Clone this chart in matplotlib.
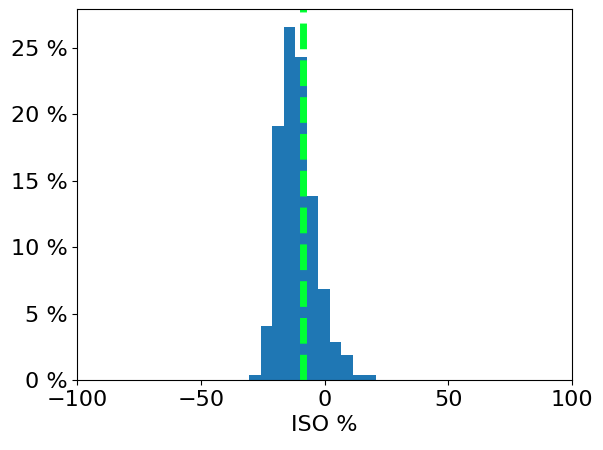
import matplotlib
matplotlib.use("Agg")
import matplotlib.pyplot as plt
from matplotlib.ticker import FuncFormatter
import numpy as np

# histogram bins (ISO %) and share of values per bin (%)
bin_edges = [-30.5, -25.83, -21.16, -16.49, -11.82, -7.15, -2.48, 2.19, 6.86, 11.53, 16.2, 20.87]
bin_pct = [0.38, 4.07, 19.1, 26.6, 24.3, 13.85, 6.85, 2.86, 1.88, 0.38, 0.38]
mean_iso = -8.5

centers = [(bin_edges[i] + bin_edges[i + 1]) / 2 for i in range(len(bin_pct))]

fig = plt.figure(figsize=(6.03, 4.5), dpi=100)
ax = fig.add_axes([0.1277, 0.1556, 0.8209, 0.8244])

ax.hist(centers, bins=bin_edges, weights=bin_pct, color="#1f77b4")
ax.axvline(mean_iso, color="#00ff33", linestyle="--", linewidth=5)

ax.set_xlim(-100, 100)
ax.set_ylim(0, 27.94)
ax.set_xticks([-100, -50, 0, 50, 100])
ax.set_yticks([0, 5, 10, 15, 20, 25])
ax.yaxis.set_major_formatter(FuncFormatter(lambda v, p: "%d %%" % v))
ax.tick_params(labelsize=16)
ax.set_xlabel("ISO %", fontsize=16)

fig.savefig("out.png", dpi=100)
